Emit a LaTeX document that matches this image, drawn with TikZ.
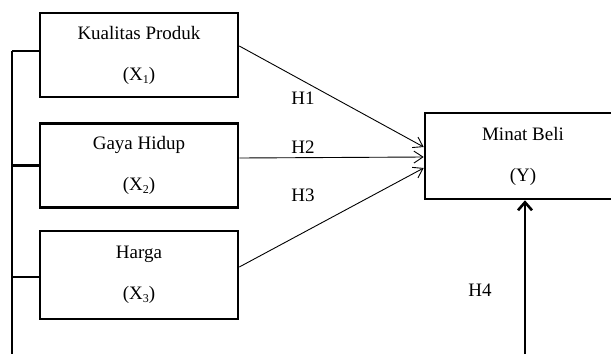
\documentclass[tikz,border=0pt]{standalone}
\usepackage{fontspec}
\setmainfont{Liberation Serif}
\usetikzlibrary{arrows.meta}
\usetikzlibrary{positioning}
\newcommand{\varidx}[1]{\raisebox{-0.35ex}{\fontsize{12}{12}\selectfont #1}}
\tikzset{
  var/.style={draw, line width=2.6pt, minimum width=198pt, minimum height=84pt,
    align=center, inner sep=0, font=\fontsize{19}{41}\selectfont},
  hyp/.style={font=\fontsize{19}{22}\selectfont, inner sep=0},
  path/.style={-{Straight Barb[length=9pt,width=12pt]}, line width=0.9pt},
  bus/.style={line width=2.6pt}
}
\begin{document}
\begin{tikzpicture}[x=1pt,y=-1pt]
  \useasboundingbox (0,0) rectangle (611,354);
  \clip (0,0) rectangle (611,354);

  \node[var] (produk) at (139,55) {Kualitas Produk\\(X\varidx{1})};
  \node[var] (gaya) at (139,165.5) {Gaya Hidup\\(X\varidx{2})};
  \node[var, minimum height=88pt] (harga) at (139,275) {Harga\\(X\varidx{3})};
  \node[var, minimum width=196pt, minimum height=86pt] (minat) at (523,156) {Minat Beli\\(Y)};

  \coordinate (bus top) at (12,51);
  \coordinate (bus end) at (12,354);
  \coordinate (h4 start) at (525,354);

  \draw[bus] (bus top) -- (bus end);
  \draw[bus] ([yshift=4pt]produk.west) -- (bus top);
  \draw[bus] (gaya.west) -- (gaya.west -| bus top);
  \draw[bus] ([yshift=-2pt]harga.west) -- ([yshift=-2pt]harga.west -| bus top);

  \draw[path] ([yshift=9pt]produk.east) -- ([yshift=9pt]minat.west);
  \draw[path] ([yshift=7.5pt]gaya.east) -- ([yshift=-1pt]minat.west);
  \draw[path] ([yshift=8pt]harga.east) -- ([yshift=-12pt]minat.west);
  \draw[bus, -{Straight Barb[length=8pt,width=14pt]}] (h4 start) -- (h4 start |- minat.south);

  \node[hyp] (h1) at (303,98) {H1};
  \node[hyp] (h2) at (303,147) {H2};
  \node[hyp] (h3) at (303,195) {H3};
  \node[hyp] (h4) at (480,290) {H4};
\end{tikzpicture}
\end{document}
